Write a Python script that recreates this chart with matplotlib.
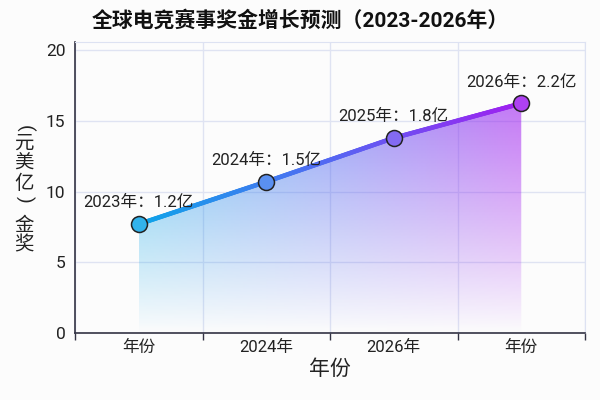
import numpy as np
import matplotlib
matplotlib.use("Agg")
import matplotlib.pyplot as plt
from matplotlib.collections import LineCollection
from matplotlib.colors import LinearSegmentedColormap, to_rgba
from matplotlib.ticker import FixedLocator, NullFormatter

plt.rcParams['font.family'] = ['Roboto', 'Noto Sans CJK SC', 'DejaVu Sans']

# data
years = ["2023年", "2024年", "2025年", "2026年"]
values = [7.7, 10.7, 13.8, 16.25]
point_labels = ["2023年：1.2亿", "2024年：1.5亿", "2025年：1.8亿", "2026年：2.2亿"]
tick_labels = ["年份", "2024年", "2026年", "年份"]
ylabel_chars = ["(", "元", "美", "亿", ")", "金", "奖"]

cmap = LinearSegmentedColormap.from_list("esports", ["#0ea5e9", "#5468f2", "#a01ff0"])

fig = plt.figure(figsize=(6, 4), dpi=100)
fig.patch.set_facecolor("#fcfcfc")
ax = fig.add_axes([0.125, 0.168, 0.85, 0.727])
ax.set_facecolor("#fcfcfc")

x = np.arange(len(values))
y = np.array(values)
ymax = 20.6

# gradient fill under the line
poly = ax.fill_between(x, 0, y, color="none", lw=0)
ny, nx = 200, 300
gx = np.linspace(0, 1, nx)
gy = np.linspace(0, 1, ny)
img = np.zeros((ny, nx, 4))
img[:, :, :3] = cmap(gx)[None, :, :3]
img[:, :, 3] = (0.6 * gy ** 0.9)[:, None]
im = ax.imshow(img, extent=[x[0], x[-1], 0, y.max()], origin="lower",
               aspect="auto", zorder=1, interpolation="bilinear")
clip = poly.get_paths()[0]
im.set_clip_path(clip, transform=ax.transData)

# gradient line
xs = np.linspace(x[0], x[-1], 300)
ys = np.interp(xs, x, y)
pts = np.array([xs, ys]).T.reshape(-1, 1, 2)
segs = np.concatenate([pts[:-1], pts[1:]], axis=1)
lc = LineCollection(segs, colors=cmap(np.linspace(0, 1, len(segs))),
                    linewidths=3.3, capstyle="round", zorder=3)
ax.add_collection(lc)

# markers
for i, (xi, yi) in enumerate(zip(x, y)):
    c = np.array(to_rgba(cmap(i / (len(x) - 1))))
    c[:3] = c[:3] * 0.85 + 0.15
    ax.plot(xi, yi, "o", ms=11.5, mfc=c, mec="#222222", mew=1.1, zorder=4)
    ax.annotate(point_labels[i], (xi, yi), xytext=(0, 10), textcoords="offset points",
                ha="center", va="bottom", fontsize=12, color="#222222", zorder=5)

ax.set_xlim(-0.5, 3.5)
ax.set_ylim(0, ymax)
ax.xaxis.set_major_locator(FixedLocator([-0.5, 0.5, 1.5, 2.5, 3.5]))
ax.xaxis.set_major_formatter(NullFormatter())
ax.xaxis.set_minor_locator(FixedLocator(list(x)))
ax.set_xticklabels(tick_labels, minor=True)
ax.tick_params(axis="x", which="major", length=5, width=1, color="#333344")
ax.tick_params(axis="x", which="minor", length=0, labelsize=12, colors="#222222", pad=5)
ax.set_yticks([0, 5, 10, 15, 20])
ax.tick_params(axis="y", length=0, labelsize=12.5, colors="#222222", pad=7)

ax.grid(True, which="major", color="#dfe3f2", lw=1, zorder=0)
ax.set_axisbelow(True)
for s in ["top", "right"]:
    ax.spines[s].set_color("#dde2f2")
for s in ["left", "bottom"]:
    ax.spines[s].set_color("#333344")
    ax.spines[s].set_linewidth(1.2)

ax.set_xlabel("年份", fontsize=15, color="#222222", labelpad=3)

# stacked y label, characters upright, brackets turned
ypix = [128, 144, 164, 184, 199, 226, 245]
for ch, yp in zip(ylabel_chars, ypix):
    rot = -90 if ch in "()" else 0
    fig.text(24 / 600, 1 - yp / 400, ch, fontsize=14, color="#222222",
             ha="center", va="center", rotation=rot)

fig.suptitle("全球电竞赛事奖金增长预测（2023-2026年）", fontsize=15, fontweight="bold",
             y=0.975, color="#111111")

fig.savefig("out.png", dpi=100, facecolor=fig.get_facecolor())
